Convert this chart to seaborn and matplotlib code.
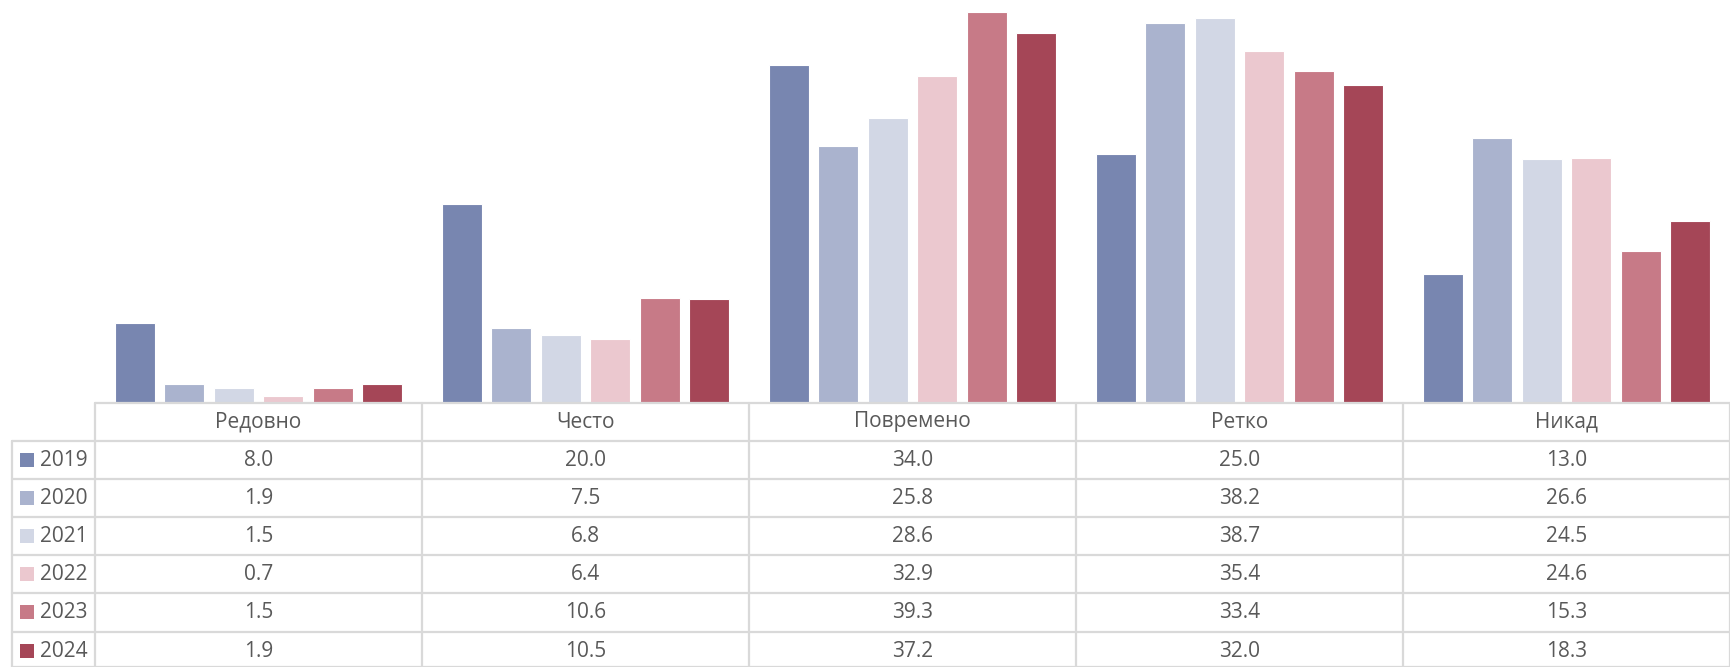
import numpy as np
import pandas as pd
import matplotlib
matplotlib.use("Agg")
import matplotlib.pyplot as plt
from matplotlib.lines import Line2D
from matplotlib.patches import Rectangle
import seaborn as sns

# data
categories = ["Редовно", "Често", "Повремено", "Ретко", "Никад"]
years = ["2019", "2020", "2021", "2022", "2023", "2024"]
v2019 = [8.0, 20.0, 34.0, 25.0, 13.0]
v2020 = [1.9, 7.5, 25.8, 38.2, 26.6]
v2021 = [1.5, 6.8, 28.6, 38.7, 24.5]
v2022 = [0.7, 6.4, 32.9, 35.4, 24.6]
v2023 = [1.5, 10.6, 39.3, 33.4, 15.3]
v2024 = [1.9, 10.5, 37.2, 32.0, 18.3]
colors = ["#7886B0", "#AAB3CE", "#D2D7E5", "#EBC8CF", "#C77A87", "#A54657"]

series = [v2019, v2020, v2021, v2022, v2023, v2024]
rows = []
for y, vals in zip(years, series):
    for c, v in zip(categories, vals):
        rows.append({"cat": c, "year": y, "val": v})
df = pd.DataFrame(rows)

sns.set_style("white")
plt.rcParams["font.family"] = ["Open Sans", "DejaVu Sans"]

W, H = 1730, 667
fig = plt.figure(figsize=(W / 100, H / 100), dpi=100)

def fx(px):
    return px / W

def fy(py):
    return 1 - py / H

left, right, base = 95, 1730, 403
ax = fig.add_axes([fx(left), fy(base), fx(right - left), base / H])
sns.barplot(data=df, x="cat", y="val", hue="year", order=categories,
            hue_order=years, palette=colors, saturation=1, width=0.908, gap=0.19,
            edgecolor="white", linewidth=0.8, legend=False, ax=ax)
ax.set_xlim(-0.5, len(categories) - 0.5)
ax.set_ylim(0, 40.5)
ax.set_xlabel("")
ax.set_ylabel("")
ax.set_xticks([])
ax.set_yticks([])
for s in ax.spines.values():
    s.set_visible(False)

# data table below the bars
grid = "#D9D9D9"
txt = "#595959"
fs = 15
colw = (right - left) / len(categories)
row_tops = [441, 479, 517, 555, 593, 632]
row_h = 38.3

def hline(y, x0, x1):
    fig.add_artist(Line2D([fx(x0), fx(x1)], [fy(y), fy(y)], color=grid, lw=1.6))

def vline(x, y0, y1):
    fig.add_artist(Line2D([fx(x), fx(x)], [fy(y0), fy(y1)], color=grid, lw=1.6))

hline(base, left, right)
for y in row_tops:
    hline(y, 12, right)
hline(667, 12, right)
for i in range(len(categories) + 1):
    vline(left + i * colw, base, 667)
vline(12, row_tops[0], 667)

for i, c in enumerate(categories):
    fig.text(fx(left + (i + 0.5) * colw), fy((base + row_tops[0]) / 2), c,
             ha="center", va="center", fontsize=fs, color=txt)

for r, (y, vals) in enumerate(zip(years, series)):
    yc = row_tops[r] + row_h / 2
    fig.add_artist(Rectangle((fx(20), fy(yc + 7)), fx(14), 14 / H,
                             facecolor=colors[r], edgecolor="none"))
    fig.text(fx(40), fy(yc), y, ha="left", va="center", fontsize=fs, color=txt)
    for i, v in enumerate(vals):
        fig.text(fx(left + (i + 0.5) * colw), fy(yc), f"{v:.1f}",
                 ha="center", va="center", fontsize=fs, color=txt)

fig.savefig("out.png", dpi=100, facecolor="white")
